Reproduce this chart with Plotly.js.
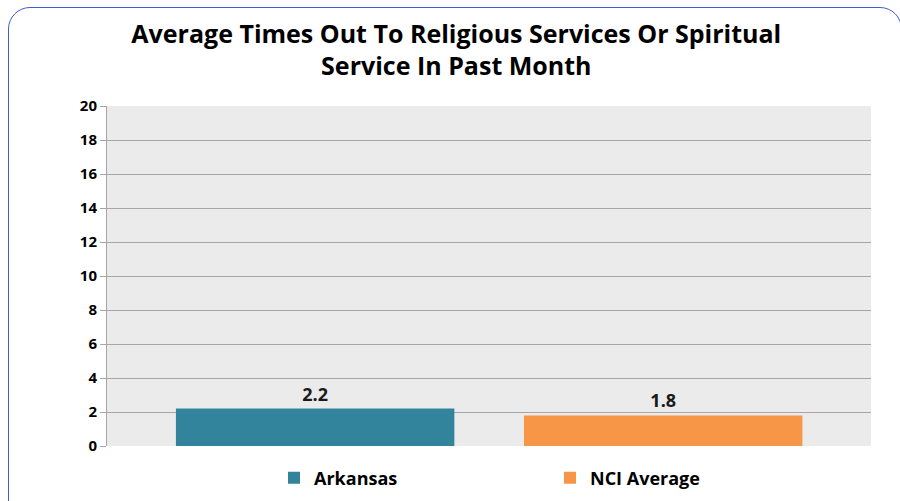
<!DOCTYPE html>
<html>
<head>
<meta charset="utf-8">
<script src="https://cdn.plot.ly/plotly-3.0.1.min.js"></script>
<style>
html,body{margin:0;padding:0;background:#fff;width:900px;height:501px;overflow:hidden;}
#frame{position:absolute;left:8px;top:7px;width:894px;height:520px;border:1.5px solid #3f5bd6;border-radius:22px;box-sizing:border-box;}
#chart{position:absolute;left:0;top:0;width:900px;height:501px;}
</style>
</head>
<body>
<div id="frame"></div>
<div id="chart"></div>
<script>
const categories = ["Arkansas", "NCI Average"];
const values = [2.2, 1.8];
const labels = ["2.2", "1.8"];
const colors = ["#31849b", "#f79646"];
const yTicks = [0, 2, 4, 6, 8, 10, 12, 14, 16, 18, 20];

const font = "'Open Sans', 'DejaVu Sans', sans-serif";
const traces = categories.map((c, i) => ({
  type: "bar",
  name: c,
  x: [c],
  y: [values[i]],
  width: 0.8,
  marker: {color: colors[i]},
  text: [labels[i]],
  textposition: "outside",
  textfont: {family: font, size: 18, color: "#1a1a1a", weight: "bold"},
  cliponaxis: false,
  hoverinfo: "none"
}));

const layout = {
  width: 900, height: 501,
  paper_bgcolor: "rgba(0,0,0,0)",
  plot_bgcolor: "#ebebeb",
  margin: {l: 107, r: 29, t: 106, b: 55},
  barmode: "overlay",
  showlegend: true,
  title: {
    text: "<b>Average Times Out To Religious Services Or Spiritual<br>Service In Past Month</b>",
    font: {family: font, size: 25, color: "#000"},
    x: 0.507, xanchor: "center", y: 0.915, yanchor: "top"
  },
  xaxis: {type: "category", range: [-0.598, 1.597], showticklabels: false, showgrid: false, zeroline: false, ticks: "", fixedrange: true},
  yaxis: {
    range: [0, 20], tickvals: yTicks, ticktext: yTicks.map(String),
    showgrid: true, gridcolor: "#a6a6a6", gridwidth: 1,
    showline: true, linecolor: "#a6a6a6", linewidth: 1,
    ticks: "outside", ticklen: 6, tickcolor: "#a6a6a6",
    tickfont: {family: font, size: 15, color: "#000", weight: "bold"},
    zeroline: false
  },
  legend: {
    orientation: "h", xref: "paper", x: 0.2186, xanchor: "left",
    yref: "container", y: 0.046, yanchor: "middle",
    entrywidth: 231, entrywidthmode: "pixels",
    font: {family: font, size: 18, color: "#000", weight: "bold"},
    bgcolor: "rgba(0,0,0,0)"
  }
};

Plotly.newPlot("chart", traces, layout, {staticPlot: true, displayModeBar: false});
</script>
</body>
</html>
